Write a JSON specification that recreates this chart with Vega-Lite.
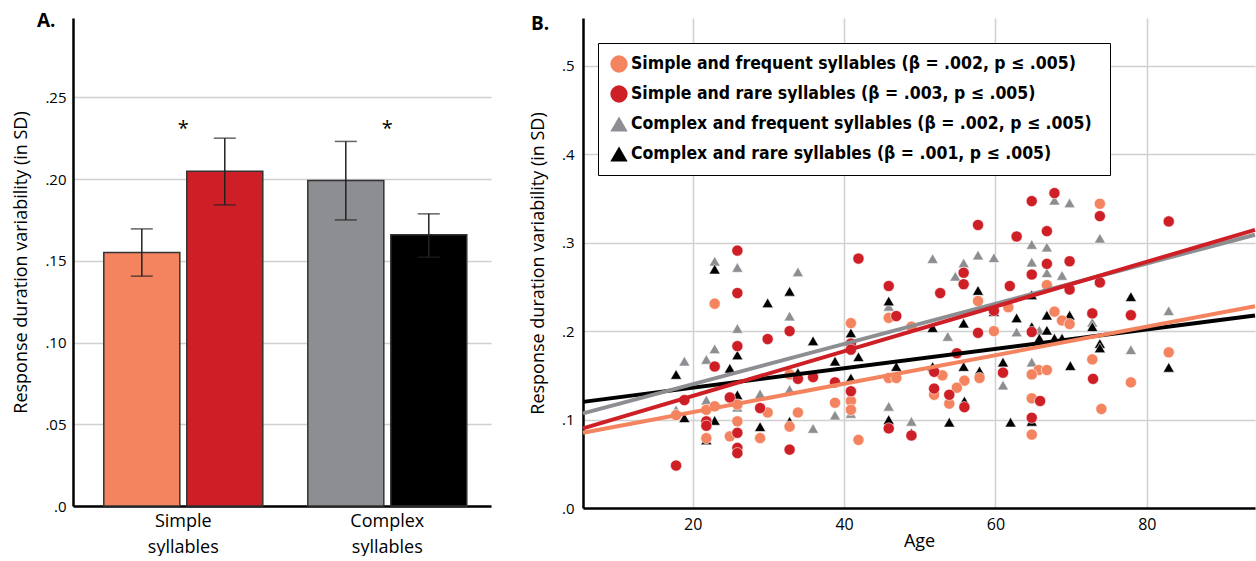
{
  "$schema": "https://vega.github.io/schema/vega-lite/v6.json",
  "background": "white",
  "padding": {"left": 12, "top": 12, "right": 0, "bottom": 0},
  "spacing": 38,
  "config": {"view": {"stroke": null}, "font": "Open Sans"},
  "resolve": {"scale": {"color": "independent", "shape": "independent", "x": "independent", "y": "independent"}, "legend": {"color": "independent"}},
  "hconcat": [
    {
      "width": 418,
      "height": 488,
      "title": {"text": "A.", "anchor": "start", "frame": "group", "dx": -36, "dy": 28, "offset": 0, "baseline": "alphabetic", "fontSize": 19, "fontWeight": "bold", "color": "black"},
      "data": {"values": [
        {"group": "Simple syllables", "freq": "Frequent", "series": "Simple and frequent syllables", "mean": 0.155, "lo": 0.1406, "hi": 0.1695},
        {"group": "Simple syllables", "freq": "Rare", "series": "Simple and rare syllables", "mean": 0.2047, "lo": 0.1842, "hi": 0.225},
        {"group": "Complex syllables", "freq": "Frequent", "series": "Complex and frequent syllables", "mean": 0.1991, "lo": 0.175, "hi": 0.223},
        {"group": "Complex syllables", "freq": "Rare", "series": "Complex and rare syllables", "mean": 0.1659, "lo": 0.1522, "hi": 0.1787}
      ]},
      "encoding": {
        "x": {"field": "group", "type": "nominal", "sort": ["Simple syllables", "Complex syllables"],
          "scale": {"paddingInner": 0.2206, "paddingOuter": 0.1348, "align": 0.56},
          "axis": {"title": null, "domainColor": "black", "domainWidth": 2.5, "ticks": false, "labelAngle": 0, "labelFontSize": 18, "labelColor": "black", "labelPadding": 6, "labelExpr": "split(datum.label, ' ')", "labelLineHeight": 26}}
      },
      "layer": [
        {
          "mark": {"type": "bar", "stroke": "#333333", "strokeWidth": 1.5},
          "encoding": {
            "xOffset": {"field": "freq", "type": "nominal", "scale": {"paddingInner": 0.084, "paddingOuter": 0}},
            "y": {"field": "mean", "type": "quantitative", "title": "Response duration variability (in SD)", "scale": {"domain": [0, 0.2985], "nice": false},
              "axis": {"values": [0, 0.05, 0.1, 0.15, 0.2, 0.25],
                "labelExpr": "datum.value == 0 ? '.0' : substring(format(datum.value, '.2f'), 1)",
                "grid": true, "gridColor": "#d0d0d0", "gridWidth": 1.5, "domainColor": "black", "domainWidth": 2.5, "ticks": false,
                "labelFontSize": 15, "labelPadding": 7, "labelColor": "black", "titleFontSize": 18, "titleFontWeight": "normal", "titlePadding": 14, "titleColor": "black"}},
            "color": {"field": "series", "type": "nominal",
              "scale": {"domain": ["Simple and frequent syllables", "Simple and rare syllables", "Complex and frequent syllables", "Complex and rare syllables"], "range": ["#F4845F", "#CF1F26", "#8C8E92", "#000000"]},
              "legend": null}
          }
        },
        {
          "mark": {"type": "rule", "color": "#222222", "strokeWidth": 1.5},
          "encoding": {
            "xOffset": {"field": "freq", "type": "nominal", "scale": {"paddingInner": 0.084, "paddingOuter": 0}},
            "y": {"field": "lo", "type": "quantitative", "title": "Response duration variability (in SD)"},
            "y2": {"field": "hi"}
          }
        },
        {
          "mark": {"type": "tick", "color": "#222222", "thickness": 1.5, "size": 22},
          "encoding": {
            "xOffset": {"field": "freq", "type": "nominal", "scale": {"paddingInner": 0.084, "paddingOuter": 0}},
            "y": {"field": "lo", "type": "quantitative", "title": "Response duration variability (in SD)"}
          }
        },
        {
          "mark": {"type": "tick", "color": "#222222", "thickness": 1.5, "size": 22},
          "encoding": {
            "xOffset": {"field": "freq", "type": "nominal", "scale": {"paddingInner": 0.084, "paddingOuter": 0}},
            "y": {"field": "hi", "type": "quantitative", "title": "Response duration variability (in SD)"}
          }
        },
        {
          "data": {"values": [
            {"group": "Simple syllables", "y": 0.227, "label": "*"},
            {"group": "Complex syllables", "y": 0.227, "label": "*"}
          ]},
          "mark": {"type": "text", "fontSize": 20, "baseline": "alphabetic", "color": "black"},
          "encoding": {
            "y": {"field": "y", "type": "quantitative", "title": "Response duration variability (in SD)"},
            "text": {"field": "label"}
          }
        }
      ]
    },
    {
      "width": 672,
      "height": 490,
      "title": {"text": "B.", "anchor": "start", "frame": "group", "dx": -52, "dy": 31, "offset": 0, "baseline": "alphabetic", "fontSize": 19, "fontWeight": "bold", "color": "black"},
      "layer": [
        {
          "data": {"values": [
            {"series": "Complex and frequent syllables", "age": 22.9, "rdv": 0.279},
            {"series": "Complex and frequent syllables", "age": 25.9, "rdv": 0.272},
            {"series": "Complex and frequent syllables", "age": 33.9, "rdv": 0.267},
            {"series": "Complex and frequent syllables", "age": 32.8, "rdv": 0.217},
            {"series": "Complex and frequent syllables", "age": 25.9, "rdv": 0.203},
            {"series": "Complex and frequent syllables", "age": 22.9, "rdv": 0.18},
            {"series": "Complex and frequent syllables", "age": 21.8, "rdv": 0.168},
            {"series": "Complex and frequent syllables", "age": 18.9, "rdv": 0.166},
            {"series": "Complex and frequent syllables", "age": 45.9, "rdv": 0.228},
            {"series": "Complex and frequent syllables", "age": 67.8, "rdv": 0.348},
            {"series": "Complex and frequent syllables", "age": 69.8, "rdv": 0.345},
            {"series": "Complex and frequent syllables", "age": 73.8, "rdv": 0.305},
            {"series": "Complex and frequent syllables", "age": 64.8, "rdv": 0.298},
            {"series": "Complex and frequent syllables", "age": 66.8, "rdv": 0.295},
            {"series": "Complex and frequent syllables", "age": 51.7, "rdv": 0.282},
            {"series": "Complex and frequent syllables", "age": 57.7, "rdv": 0.286},
            {"series": "Complex and frequent syllables", "age": 59.8, "rdv": 0.283},
            {"series": "Complex and frequent syllables", "age": 55.8, "rdv": 0.277},
            {"series": "Complex and frequent syllables", "age": 64.8, "rdv": 0.278},
            {"series": "Complex and frequent syllables", "age": 54.7, "rdv": 0.262},
            {"series": "Complex and frequent syllables", "age": 66.8, "rdv": 0.266},
            {"series": "Complex and frequent syllables", "age": 68.8, "rdv": 0.263},
            {"series": "Complex and frequent syllables", "age": 82.9, "rdv": 0.223},
            {"series": "Complex and frequent syllables", "age": 72.8, "rdv": 0.21},
            {"series": "Complex and frequent syllables", "age": 65.8, "rdv": 0.201},
            {"series": "Complex and frequent syllables", "age": 62.8, "rdv": 0.199},
            {"series": "Complex and frequent syllables", "age": 53.7, "rdv": 0.194},
            {"series": "Complex and frequent syllables", "age": 77.9, "rdv": 0.179},
            {"series": "Complex and frequent syllables", "age": 64.8, "rdv": 0.165},
            {"series": "Complex and frequent syllables", "age": 61.0, "rdv": 0.139},
            {"series": "Complex and frequent syllables", "age": 48.9, "rdv": 0.098},
            {"series": "Complex and frequent syllables", "age": 40.9, "rdv": 0.107},
            {"series": "Complex and frequent syllables", "age": 38.8, "rdv": 0.105},
            {"series": "Complex and frequent syllables", "age": 35.9, "rdv": 0.09},
            {"series": "Complex and frequent syllables", "age": 45.9, "rdv": 0.115},
            {"series": "Complex and frequent syllables", "age": 17.8, "rdv": 0.111},
            {"series": "Complex and frequent syllables", "age": 21.8, "rdv": 0.122},
            {"series": "Complex and frequent syllables", "age": 25.9, "rdv": 0.114},
            {"series": "Complex and frequent syllables", "age": 28.9, "rdv": 0.129},
            {"series": "Complex and frequent syllables", "age": 32.8, "rdv": 0.134},
            {"series": "Complex and rare syllables", "age": 22.9, "rdv": 0.27},
            {"series": "Complex and rare syllables", "age": 32.8, "rdv": 0.245},
            {"series": "Complex and rare syllables", "age": 29.9, "rdv": 0.232},
            {"series": "Complex and rare syllables", "age": 25.9, "rdv": 0.173},
            {"series": "Complex and rare syllables", "age": 24.9, "rdv": 0.158},
            {"series": "Complex and rare syllables", "age": 17.8, "rdv": 0.151},
            {"series": "Complex and rare syllables", "age": 35.9, "rdv": 0.189},
            {"series": "Complex and rare syllables", "age": 38.8, "rdv": 0.166},
            {"series": "Complex and rare syllables", "age": 40.9, "rdv": 0.198},
            {"series": "Complex and rare syllables", "age": 41.9, "rdv": 0.171},
            {"series": "Complex and rare syllables", "age": 45.9, "rdv": 0.234},
            {"series": "Complex and rare syllables", "age": 46.9, "rdv": 0.16},
            {"series": "Complex and rare syllables", "age": 57.7, "rdv": 0.246},
            {"series": "Complex and rare syllables", "age": 64.8, "rdv": 0.241},
            {"series": "Complex and rare syllables", "age": 59.8, "rdv": 0.222},
            {"series": "Complex and rare syllables", "age": 62.8, "rdv": 0.215},
            {"series": "Complex and rare syllables", "age": 66.8, "rdv": 0.218},
            {"series": "Complex and rare syllables", "age": 69.8, "rdv": 0.218},
            {"series": "Complex and rare syllables", "age": 77.9, "rdv": 0.239},
            {"series": "Complex and rare syllables", "age": 72.8, "rdv": 0.205},
            {"series": "Complex and rare syllables", "age": 64.8, "rdv": 0.205},
            {"series": "Complex and rare syllables", "age": 66.8, "rdv": 0.201},
            {"series": "Complex and rare syllables", "age": 65.8, "rdv": 0.192},
            {"series": "Complex and rare syllables", "age": 67.8, "rdv": 0.192},
            {"series": "Complex and rare syllables", "age": 68.8, "rdv": 0.192},
            {"series": "Complex and rare syllables", "age": 55.8, "rdv": 0.209},
            {"series": "Complex and rare syllables", "age": 51.7, "rdv": 0.204},
            {"series": "Complex and rare syllables", "age": 73.8, "rdv": 0.186},
            {"series": "Complex and rare syllables", "age": 73.8, "rdv": 0.181},
            {"series": "Complex and rare syllables", "age": 61.0, "rdv": 0.165},
            {"series": "Complex and rare syllables", "age": 69.9, "rdv": 0.161},
            {"series": "Complex and rare syllables", "age": 55.8, "rdv": 0.16},
            {"series": "Complex and rare syllables", "age": 82.9, "rdv": 0.159},
            {"series": "Complex and rare syllables", "age": 51.7, "rdv": 0.16},
            {"series": "Complex and rare syllables", "age": 57.9, "rdv": 0.155},
            {"series": "Complex and rare syllables", "age": 55.9, "rdv": 0.121},
            {"series": "Complex and rare syllables", "age": 64.8, "rdv": 0.098},
            {"series": "Complex and rare syllables", "age": 53.9, "rdv": 0.097},
            {"series": "Complex and rare syllables", "age": 62.0, "rdv": 0.097},
            {"series": "Complex and rare syllables", "age": 33.9, "rdv": 0.153},
            {"series": "Complex and rare syllables", "age": 40.9, "rdv": 0.147},
            {"series": "Complex and rare syllables", "age": 45.9, "rdv": 0.1},
            {"series": "Complex and rare syllables", "age": 18.9, "rdv": 0.102},
            {"series": "Complex and rare syllables", "age": 22.9, "rdv": 0.099},
            {"series": "Complex and rare syllables", "age": 21.8, "rdv": 0.077},
            {"series": "Complex and rare syllables", "age": 25.9, "rdv": 0.128},
            {"series": "Complex and rare syllables", "age": 28.9, "rdv": 0.092},
            {"series": "Complex and rare syllables", "age": 32.8, "rdv": 0.098},
            {"series": "Complex and rare syllables", "age": 48.9, "rdv": 0.085},
            {"series": "Simple and frequent syllables", "age": 22.9, "rdv": 0.231},
            {"series": "Simple and frequent syllables", "age": 40.9, "rdv": 0.209},
            {"series": "Simple and frequent syllables", "age": 45.9, "rdv": 0.215},
            {"series": "Simple and frequent syllables", "age": 48.9, "rdv": 0.205},
            {"series": "Simple and frequent syllables", "age": 57.7, "rdv": 0.234},
            {"series": "Simple and frequent syllables", "age": 61.7, "rdv": 0.227},
            {"series": "Simple and frequent syllables", "age": 66.8, "rdv": 0.252},
            {"series": "Simple and frequent syllables", "age": 67.8, "rdv": 0.222},
            {"series": "Simple and frequent syllables", "age": 68.8, "rdv": 0.212},
            {"series": "Simple and frequent syllables", "age": 69.8, "rdv": 0.208},
            {"series": "Simple and frequent syllables", "age": 59.8, "rdv": 0.2},
            {"series": "Simple and frequent syllables", "age": 73.8, "rdv": 0.344},
            {"series": "Simple and frequent syllables", "age": 82.9, "rdv": 0.176},
            {"series": "Simple and frequent syllables", "age": 72.8, "rdv": 0.168},
            {"series": "Simple and frequent syllables", "age": 65.7, "rdv": 0.156},
            {"series": "Simple and frequent syllables", "age": 66.8, "rdv": 0.156},
            {"series": "Simple and frequent syllables", "age": 64.8, "rdv": 0.151},
            {"series": "Simple and frequent syllables", "age": 53.0, "rdv": 0.15},
            {"series": "Simple and frequent syllables", "age": 57.9, "rdv": 0.147},
            {"series": "Simple and frequent syllables", "age": 55.9, "rdv": 0.144},
            {"series": "Simple and frequent syllables", "age": 77.9, "rdv": 0.142},
            {"series": "Simple and frequent syllables", "age": 51.9, "rdv": 0.128},
            {"series": "Simple and frequent syllables", "age": 53.9, "rdv": 0.118},
            {"series": "Simple and frequent syllables", "age": 54.9, "rdv": 0.136},
            {"series": "Simple and frequent syllables", "age": 64.8, "rdv": 0.124},
            {"series": "Simple and frequent syllables", "age": 74.0, "rdv": 0.112},
            {"series": "Simple and frequent syllables", "age": 64.8, "rdv": 0.083},
            {"series": "Simple and frequent syllables", "age": 32.8, "rdv": 0.151},
            {"series": "Simple and frequent syllables", "age": 40.9, "rdv": 0.121},
            {"series": "Simple and frequent syllables", "age": 40.9, "rdv": 0.111},
            {"series": "Simple and frequent syllables", "age": 38.8, "rdv": 0.119},
            {"series": "Simple and frequent syllables", "age": 41.9, "rdv": 0.077},
            {"series": "Simple and frequent syllables", "age": 45.9, "rdv": 0.147},
            {"series": "Simple and frequent syllables", "age": 46.9, "rdv": 0.147},
            {"series": "Simple and frequent syllables", "age": 17.8, "rdv": 0.105},
            {"series": "Simple and frequent syllables", "age": 21.8, "rdv": 0.111},
            {"series": "Simple and frequent syllables", "age": 22.9, "rdv": 0.115},
            {"series": "Simple and frequent syllables", "age": 21.8, "rdv": 0.079},
            {"series": "Simple and frequent syllables", "age": 25.9, "rdv": 0.117},
            {"series": "Simple and frequent syllables", "age": 25.9, "rdv": 0.098},
            {"series": "Simple and frequent syllables", "age": 24.9, "rdv": 0.081},
            {"series": "Simple and frequent syllables", "age": 29.9, "rdv": 0.108},
            {"series": "Simple and frequent syllables", "age": 28.9, "rdv": 0.079},
            {"series": "Simple and frequent syllables", "age": 32.8, "rdv": 0.092},
            {"series": "Simple and frequent syllables", "age": 33.9, "rdv": 0.108},
            {"series": "Simple and rare syllables", "age": 25.9, "rdv": 0.291},
            {"series": "Simple and rare syllables", "age": 25.9, "rdv": 0.243},
            {"series": "Simple and rare syllables", "age": 32.8, "rdv": 0.2},
            {"series": "Simple and rare syllables", "age": 29.9, "rdv": 0.191},
            {"series": "Simple and rare syllables", "age": 25.9, "rdv": 0.183},
            {"series": "Simple and rare syllables", "age": 22.9, "rdv": 0.16},
            {"series": "Simple and rare syllables", "age": 40.9, "rdv": 0.186},
            {"series": "Simple and rare syllables", "age": 40.9, "rdv": 0.179},
            {"series": "Simple and rare syllables", "age": 41.9, "rdv": 0.282},
            {"series": "Simple and rare syllables", "age": 45.9, "rdv": 0.251},
            {"series": "Simple and rare syllables", "age": 46.9, "rdv": 0.217},
            {"series": "Simple and rare syllables", "age": 67.8, "rdv": 0.356},
            {"series": "Simple and rare syllables", "age": 64.8, "rdv": 0.347},
            {"series": "Simple and rare syllables", "age": 73.8, "rdv": 0.33},
            {"series": "Simple and rare syllables", "age": 82.9, "rdv": 0.324},
            {"series": "Simple and rare syllables", "age": 57.7, "rdv": 0.32},
            {"series": "Simple and rare syllables", "age": 62.8, "rdv": 0.307},
            {"series": "Simple and rare syllables", "age": 66.8, "rdv": 0.313},
            {"series": "Simple and rare syllables", "age": 66.8, "rdv": 0.276},
            {"series": "Simple and rare syllables", "age": 69.8, "rdv": 0.279},
            {"series": "Simple and rare syllables", "age": 55.8, "rdv": 0.266},
            {"series": "Simple and rare syllables", "age": 55.8, "rdv": 0.253},
            {"series": "Simple and rare syllables", "age": 64.8, "rdv": 0.264},
            {"series": "Simple and rare syllables", "age": 52.7, "rdv": 0.243},
            {"series": "Simple and rare syllables", "age": 61.9, "rdv": 0.251},
            {"series": "Simple and rare syllables", "age": 69.8, "rdv": 0.247},
            {"series": "Simple and rare syllables", "age": 73.8, "rdv": 0.255},
            {"series": "Simple and rare syllables", "age": 59.8, "rdv": 0.223},
            {"series": "Simple and rare syllables", "age": 72.8, "rdv": 0.22},
            {"series": "Simple and rare syllables", "age": 77.9, "rdv": 0.218},
            {"series": "Simple and rare syllables", "age": 64.8, "rdv": 0.199},
            {"series": "Simple and rare syllables", "age": 57.7, "rdv": 0.198},
            {"series": "Simple and rare syllables", "age": 54.9, "rdv": 0.175},
            {"series": "Simple and rare syllables", "age": 51.9, "rdv": 0.154},
            {"series": "Simple and rare syllables", "age": 61.0, "rdv": 0.153},
            {"series": "Simple and rare syllables", "age": 72.9, "rdv": 0.146},
            {"series": "Simple and rare syllables", "age": 51.9, "rdv": 0.135},
            {"series": "Simple and rare syllables", "age": 53.9, "rdv": 0.128},
            {"series": "Simple and rare syllables", "age": 55.9, "rdv": 0.114},
            {"series": "Simple and rare syllables", "age": 65.9, "rdv": 0.121},
            {"series": "Simple and rare syllables", "age": 64.8, "rdv": 0.102},
            {"series": "Simple and rare syllables", "age": 48.9, "rdv": 0.082},
            {"series": "Simple and rare syllables", "age": 33.9, "rdv": 0.146},
            {"series": "Simple and rare syllables", "age": 35.9, "rdv": 0.148},
            {"series": "Simple and rare syllables", "age": 38.8, "rdv": 0.142},
            {"series": "Simple and rare syllables", "age": 40.9, "rdv": 0.132},
            {"series": "Simple and rare syllables", "age": 45.9, "rdv": 0.09},
            {"series": "Simple and rare syllables", "age": 18.9, "rdv": 0.122},
            {"series": "Simple and rare syllables", "age": 17.8, "rdv": 0.048},
            {"series": "Simple and rare syllables", "age": 21.8, "rdv": 0.098},
            {"series": "Simple and rare syllables", "age": 21.8, "rdv": 0.093},
            {"series": "Simple and rare syllables", "age": 24.9, "rdv": 0.125},
            {"series": "Simple and rare syllables", "age": 25.9, "rdv": 0.085},
            {"series": "Simple and rare syllables", "age": 25.9, "rdv": 0.068},
            {"series": "Simple and rare syllables", "age": 25.9, "rdv": 0.062},
            {"series": "Simple and rare syllables", "age": 28.9, "rdv": 0.113},
            {"series": "Simple and rare syllables", "age": 32.8, "rdv": 0.066}
          ]},
          "mark": {"type": "point", "filled": true, "opacity": 1, "size": 125, "stroke": "white", "strokeWidth": 0.6},
          "encoding": {
            "x": {"field": "age", "type": "quantitative", "scale": {"domain": [5.5, 94.3], "nice": false, "zero": false},
              "axis": {"title": "Age", "values": [20, 40, 60, 80], "grid": true, "gridColor": "#d0d0d0", "gridWidth": 1.5, "domainColor": "black", "domainWidth": 2.5, "ticks": false,
                "labelFontSize": 16, "labelPadding": 8, "labelColor": "black", "labelFlush": false, "titleFontSize": 18, "titleFontWeight": "normal", "titlePadding": 0, "titleColor": "black"}},
            "y": {"field": "rdv", "type": "quantitative", "scale": {"domain": [0, 0.554], "nice": false},
              "axis": {"title": "Response duration variability (in SD)", "values": [0, 0.1, 0.2, 0.3, 0.4, 0.5],
                "labelExpr": "datum.value == 0 ? '.0' : substring(format(datum.value, '.1f'), 1)",
                "grid": true, "gridColor": "#d0d0d0", "gridWidth": 1.5, "domainColor": "black", "domainWidth": 2.5, "ticks": false,
                "labelFontSize": 15, "labelPadding": 9, "labelColor": "black", "titleFontSize": 18, "titleFontWeight": "normal", "titlePadding": 14, "titleColor": "black"}},
            "color": {"field": "series", "type": "nominal",
              "scale": {"domain": ["Simple and frequent syllables", "Simple and rare syllables", "Complex and frequent syllables", "Complex and rare syllables"], "range": ["#F4845F", "#CF1F26", "#8C8E92", "#000000"]},
              "legend": {"orient": "none", "legendX": 15, "legendY": 25, "title": null, "fillColor": "white", "strokeColor": "black", "padding": 12,
                "symbolSize": 300, "symbolStrokeWidth": 0, "labelFontSize": 17.5, "labelFont": "Liberation Sans Narrow, DejaVu Sans Condensed, sans-serif", "labelFontWeight": "bold", "labelColor": "black", "rowPadding": 12, "labelOffset": 3, "labelLimit": 700,
                "labelExpr": "datum.label == 'Simple and frequent syllables' ? datum.label + '  (β = .002, p ≤ .005)' : datum.label == 'Simple and rare syllables' ? datum.label + '  (β = .003, p ≤ .005)' : datum.label == 'Complex and frequent syllables' ? datum.label + '  (β = .002, p ≤ .005)' : datum.label + '  (β = .001, p ≤ .005)'"}},
            "shape": {"field": "series", "type": "nominal",
              "scale": {"domain": ["Simple and frequent syllables", "Simple and rare syllables", "Complex and frequent syllables", "Complex and rare syllables"], "range": ["circle", "circle", "triangle-up", "triangle-up"]}}
          }
        },
        {
          "data": {"values": [
            {"series": "Complex and rare syllables", "age": 5.5, "rdv": 0.12},
            {"series": "Complex and rare syllables", "age": 94.3, "rdv": 0.2177},
            {"series": "Complex and frequent syllables", "age": 5.5, "rdv": 0.107},
            {"series": "Complex and frequent syllables", "age": 94.3, "rdv": 0.309},
            {"series": "Simple and frequent syllables", "age": 5.5, "rdv": 0.085},
            {"series": "Simple and frequent syllables", "age": 94.3, "rdv": 0.228},
            {"series": "Simple and rare syllables", "age": 5.5, "rdv": 0.09},
            {"series": "Simple and rare syllables", "age": 94.3, "rdv": 0.3145}
          ]},
          "mark": {"type": "line", "strokeWidth": 4},
          "encoding": {
            "x": {"field": "age", "type": "quantitative"},
            "y": {"field": "rdv", "type": "quantitative"},
            "color": {"field": "series", "type": "nominal", "legend": null}
          }
        }
      ]
    }
  ]
}
